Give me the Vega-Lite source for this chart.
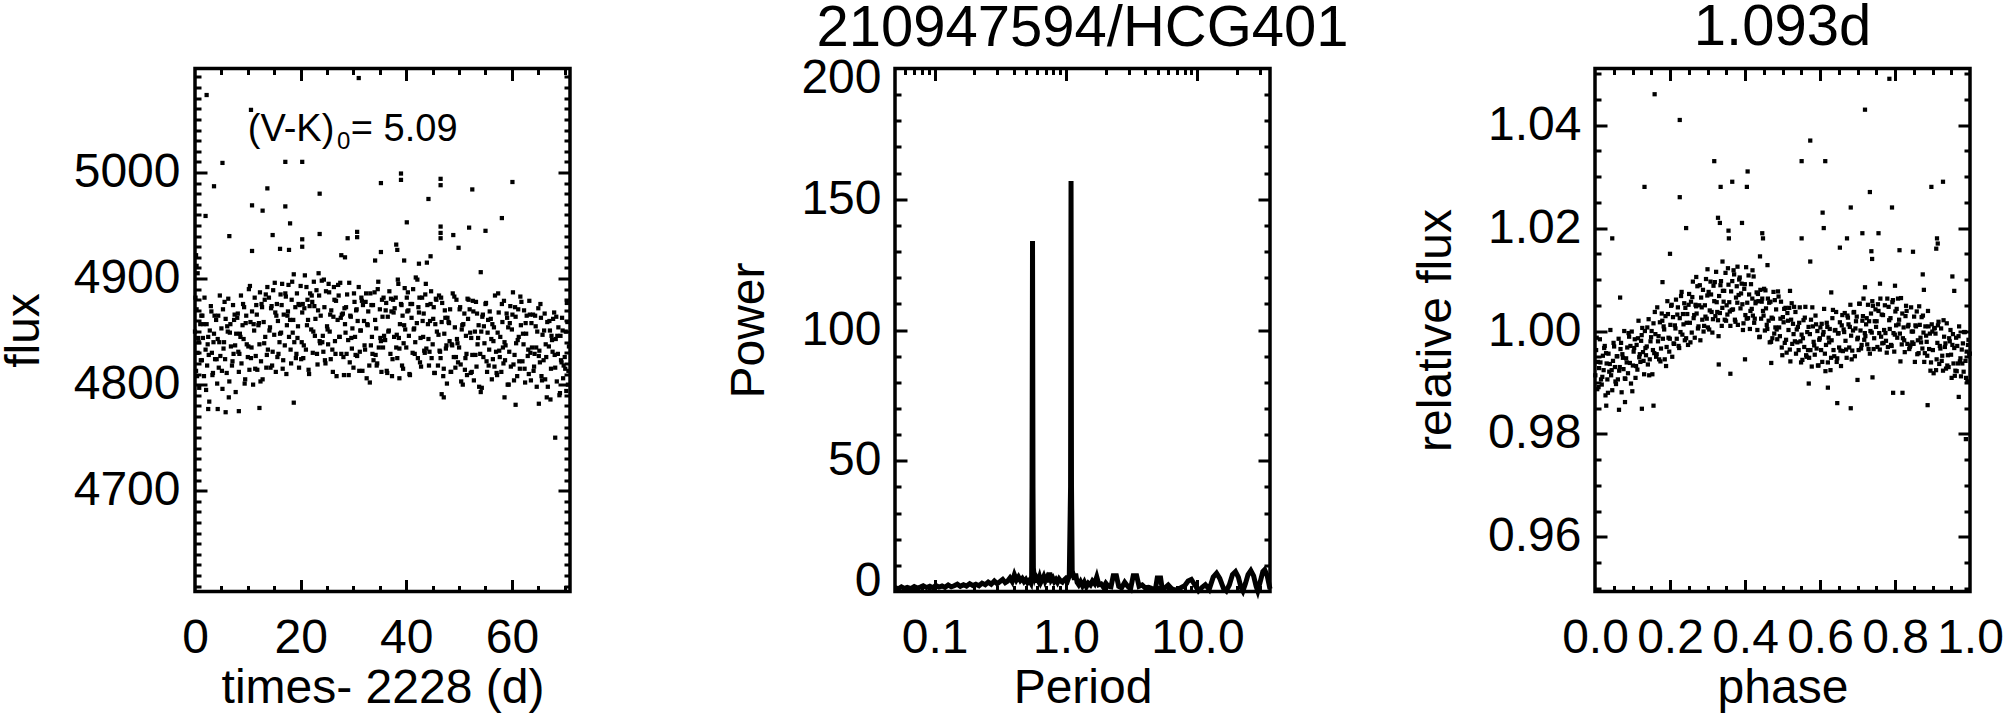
{
"$schema": "https://vega.github.io/schema/vega-lite/v6.json",
"background": "white",
"autosize": {"type": "pad"},
"padding": {"left": -2, "top": -3.5, "right": 0, "bottom": 0},
"spacing": 325,
"bounds": "flush",
"config": {
 "font": "Liberation Sans",
 "view": {"stroke": "#000000", "strokeWidth": 3.5},
 "axis": {"domain": false, "grid": false, "tickColor": "#000000", "tickWidth": 3, "tickCap": "butt", "labelColor": "#000000", "labelFont": "Liberation Sans", "labelFontSize": 48, "labelFlush": false, "labelOverlap": false, "labelBound": false, "titleFont": "Liberation Sans", "titleFontSize": 48, "titleFontWeight": "normal", "titleColor": "#000000"},
 "title": {"font": "Liberation Sans", "fontSize": 58, "fontWeight": "normal", "color": "#000000", "baseline": "alphabetic", "anchor": "middle"}
},
"hconcat": [
{
 "width": 375, "height": 523,
 "data": {"values": "t,f\n0.0,4850\n0.2,4813\n0.3,4871\n0.5,4830\n0.7,4840\n0.8,4797\n1.0,4857\n1.2,4865\n1.3,4823\n1.5,4844\n1.7,4808\n1.8,4882\n2.0,4833\n2.2,4857\n2.3,4818\n2.5,4845\n2.7,4784\n2.8,4851\n3.0,4874\n3.2,4830\n3.3,4809\n3.5,4840\n3.7,4865\n3.8,4824\n4.0,4861\n4.2,4801\n4.3,4843\n4.5,4816\n4.7,4884\n4.8,4827\n5.0,4853\n5.2,4796\n5.3,4871\n5.5,4840\n5.7,4824\n5.8,4862\n6.0,4811\n6.2,4850\n6.3,4881\n6.5,4803\n6.7,4857\n6.8,4836\n7.0,4818\n7.2,4875\n7.3,4829\n7.5,4866\n7.7,4793\n7.8,4848\n8.0,4863\n8.2,4831\n8.3,4812\n8.5,4848\n8.7,4884\n8.8,4820\n9.0,4856\n9.2,4843\n9.3,4873\n9.5,4805\n9.7,4865\n9.8,4838\n10.0,4826\n10.2,4890\n10.3,4814\n10.5,4859\n10.7,4835\n10.8,4869\n11.0,4800\n11.2,4851\n11.3,4882\n11.5,4827\n11.7,4866\n11.8,4814\n12.0,4856\n12.2,4838\n12.3,4887\n12.5,4822\n12.7,4873\n12.8,4805\n13.0,4859\n13.2,4880\n13.3,4845\n13.5,4816\n13.7,4892\n13.8,4833\n14.0,4882\n14.2,4854\n14.3,4816\n14.5,4874\n14.7,4831\n14.8,4889\n15.0,4847\n15.2,4868\n15.3,4812\n15.5,4876\n15.7,4860\n15.8,4829\n16.0,4840\n16.2,4885\n16.3,4849\n16.5,4895\n16.7,4823\n16.8,4866\n17.0,4837\n17.2,4883\n17.3,4810\n17.5,4865\n17.7,4894\n17.8,4845\n18.0,4861\n18.2,4820\n18.3,4880\n18.5,4849\n18.7,4904\n18.8,4840\n19.0,4873\n19.2,4829\n19.3,4886\n19.5,4855\n19.7,4816\n19.8,4875\n20.0,4893\n20.2,4840\n20.3,4868\n20.5,4825\n20.7,4872\n20.8,4903\n21.0,4833\n21.2,4856\n21.3,4880\n21.5,4814\n21.7,4874\n21.8,4886\n22.0,4852\n22.2,4878\n22.3,4830\n22.5,4897\n22.7,4846\n22.8,4862\n23.0,4889\n23.2,4819\n23.3,4870\n23.5,4884\n23.7,4839\n23.8,4865\n24.0,4898\n24.2,4846\n24.3,4831\n24.5,4873\n24.7,4820\n24.8,4888\n25.0,4855\n25.2,4838\n25.3,4895\n25.5,4850\n25.7,4824\n25.8,4870\n26.0,4833\n26.2,4864\n26.3,4892\n26.5,4841\n26.7,4879\n26.8,4808\n27.0,4861\n27.2,4884\n27.3,4845\n27.5,4896\n27.7,4829\n27.8,4866\n28.0,4867\n28.2,4809\n28.3,4872\n28.5,4849\n28.7,4829\n28.8,4885\n29.0,4842\n29.2,4896\n29.3,4821\n29.5,4864\n29.7,4834\n29.8,4853\n30.0,4816\n30.2,4878\n30.3,4845\n30.5,4870\n30.7,4827\n30.8,4860\n31.0,4892\n31.2,4831\n31.3,4851\n31.5,4882\n31.7,4813\n31.8,4875\n32.0,4860\n32.2,4833\n32.3,4878\n32.5,4806\n32.7,4856\n32.8,4869\n33.0,4818\n33.2,4886\n33.3,4837\n33.5,4845\n33.7,4875\n33.8,4823\n34.0,4887\n34.2,4828\n34.3,4853\n34.5,4820\n34.7,4897\n34.8,4835\n35.0,4871\n35.2,4841\n35.3,4812\n35.5,4864\n35.7,4882\n35.8,4846\n36.0,4842\n36.2,4877\n36.3,4813\n36.5,4864\n36.7,4851\n36.8,4888\n37.0,4829\n37.2,4869\n37.3,4808\n37.5,4880\n37.7,4845\n37.8,4872\n38.0,4882\n38.2,4847\n38.3,4825\n38.5,4895\n38.7,4834\n38.8,4857\n39.0,4876\n39.2,4818\n39.3,4865\n39.5,4839\n39.7,4891\n39.8,4852\n40.0,4835\n40.2,4869\n40.3,4887\n40.5,4846\n40.7,4809\n40.8,4876\n41.0,4863\n41.2,4830\n41.3,4890\n41.5,4853\n41.7,4840\n41.8,4901\n42.0,4858\n42.2,4825\n42.3,4873\n42.5,4882\n42.7,4844\n42.8,4817\n43.0,4882\n43.2,4845\n43.3,4867\n43.5,4830\n43.7,4895\n43.8,4834\n44.0,4875\n44.2,4843\n44.3,4818\n44.5,4860\n44.7,4888\n44.8,4825\n45.0,4838\n45.2,4873\n45.3,4811\n45.5,4857\n45.7,4880\n45.8,4850\n46.0,4818\n46.2,4884\n46.3,4832\n46.5,4825\n46.7,4859\n46.8,4877\n47.0,4808\n47.2,4848\n47.3,4870\n47.5,4834\n47.7,4801\n47.8,4863\n48.0,4859\n48.2,4841\n48.3,4871\n48.5,4812\n48.7,4837\n48.8,4886\n49.0,4826\n49.2,4854\n49.3,4816\n49.5,4880\n49.7,4839\n49.8,4821\n50.0,4835\n50.2,4873\n50.3,4819\n50.5,4852\n50.7,4800\n50.8,4857\n51.0,4867\n51.2,4825\n51.3,4846\n51.5,4809\n51.7,4862\n51.8,4880\n52.0,4871\n52.2,4811\n52.3,4844\n52.5,4828\n52.7,4869\n52.8,4804\n53.0,4850\n53.2,4878\n53.3,4817\n53.5,4838\n53.7,4856\n53.8,4798\n54.0,4829\n54.2,4850\n54.3,4797\n54.5,4866\n54.7,4855\n54.8,4839\n55.0,4876\n55.2,4822\n55.3,4812\n55.5,4861\n55.7,4833\n55.8,4869\n56.0,4862\n56.2,4805\n56.3,4857\n56.5,4841\n56.7,4817\n56.8,4884\n57.0,4831\n57.2,4809\n57.3,4849\n57.5,4868\n57.7,4826\n57.8,4845\n58.0,4812\n58.2,4859\n58.3,4835\n58.5,4879\n58.7,4823\n58.8,4837\n59.0,4867\n59.2,4800\n59.3,4854\n59.5,4831\n59.7,4874\n59.8,4817\n60.0,4852\n60.2,4887\n60.3,4819\n60.5,4828\n60.7,4864\n60.8,4839\n61.0,4808\n61.2,4871\n61.3,4845\n61.5,4815\n61.7,4856\n61.8,4878\n62.0,4822\n62.2,4838\n62.3,4870\n62.5,4802\n62.7,4848\n62.8,4865\n63.0,4827\n63.2,4810\n63.3,4879\n63.5,4830\n63.7,4858\n63.8,4835\n64.0,4866\n64.2,4817\n64.3,4829\n64.5,4855\n64.7,4798\n64.8,4850\n65.0,4872\n65.2,4832\n65.3,4821\n65.5,4863\n65.7,4804\n65.8,4847\n66.0,4823\n66.2,4867\n66.3,4805\n66.5,4826\n66.7,4859\n66.8,4798\n67.0,4836\n67.2,4851\n67.3,4786\n67.5,4846\n67.7,4831\n67.8,4862\n68.0,4868\n68.2,4816\n68.3,4843\n68.5,4803\n68.7,4829\n68.8,4854\n69.0,4790\n69.2,4846\n69.3,4823\n69.5,4863\n69.7,4806\n69.8,4818\n70.0,4826\n70.2,4850\n70.3,4794\n70.5,4859\n70.7,4813\n70.8,4836\n0.1,4882\n0.4,4808\n0.6,4844\n1.1,4823\n1.4,4865\n1.6,4857\n2.1,4795\n2.4,4838\n2.6,4828\n3.1,4869\n3.4,4811\n3.6,4848\n4.1,4824\n4.4,4865\n4.6,4840\n5.1,4813\n5.4,4834\n5.6,4878\n6.1,4855\n6.4,4788\n6.6,4849\n7.1,4822\n7.4,4861\n7.6,4837\n8.1,4867\n8.4,4829\n8.6,4845\n9.1,4876\n9.4,4801\n9.6,4858\n10.1,4836\n10.4,4893\n10.6,4825\n11.1,4857\n11.4,4815\n11.6,4875\n12.1,4858\n12.4,4803\n12.6,4876\n13.1,4839\n13.4,4885\n13.6,4828\n14.1,4851\n14.4,4872\n14.6,4818\n15.1,4896\n15.4,4865\n15.6,4826\n16.1,4848\n16.4,4875\n16.6,4815\n17.1,4886\n17.4,4856\n17.6,4869\n18.1,4833\n18.4,4897\n18.6,4861\n19.1,4825\n19.4,4844\n19.6,4876\n20.1,4824\n20.4,4876\n20.6,4837\n21.1,4892\n21.4,4861\n21.6,4810\n22.1,4884\n22.4,4850\n22.6,4874\n23.1,4829\n23.4,4905\n23.6,4841\n24.1,4840\n24.4,4899\n24.6,4823\n25.1,4852\n25.4,4887\n25.6,4866\n26.1,4812\n26.4,4880\n26.6,4829\n27.1,4894\n27.4,4845\n27.6,4863\n28.1,4826\n28.4,4857\n28.6,4873\n29.1,4809\n29.4,4865\n29.6,4844\n30.1,4886\n30.4,4828\n30.6,4871\n31.1,4813\n31.4,4851\n31.6,4879\n32.1,4837\n32.4,4886\n32.6,4857\n33.1,4802\n33.4,4875\n33.6,4829\n34.1,4861\n34.4,4818\n34.6,4890\n35.1,4844\n35.4,4880\n35.6,4835\n36.1,4870\n36.4,4811\n36.6,4850\n37.1,4881\n37.4,4824\n37.6,4868\n38.1,4835\n38.4,4899\n38.6,4844\n39.1,4875\n39.4,4815\n39.6,4856\n40.1,4882\n40.4,4870\n40.6,4810\n41.1,4876\n41.4,4852\n41.6,4829\n42.1,4899\n42.4,4868\n42.6,4821\n43.1,4860\n43.4,4832\n43.6,4885\n44.1,4857\n44.4,4831\n44.6,4876\n45.1,4862\n45.4,4811\n45.6,4881\n46.1,4847\n46.4,4831\n46.6,4882\n47.1,4815\n47.4,4863\n47.6,4837\n48.1,4858\n48.4,4812\n48.6,4838\n49.1,4883\n49.4,4826\n49.6,4843\n50.1,4871\n50.4,4803\n50.6,4856\n51.1,4814\n51.4,4829\n51.6,4881\n52.1,4849\n52.4,4812\n52.6,4879\n53.1,4828\n53.4,4867\n53.6,4844\n54.1,4793\n54.4,4864\n54.6,4826\n55.1,4877\n55.4,4849\n55.6,4818\n56.1,4843\n56.4,4824\n56.6,4854\n57.1,4811\n57.4,4886\n57.6,4832\n58.1,4876\n58.4,4820\n58.6,4840\n59.1,4863\n59.4,4800\n59.6,4858\n60.1,4866\n60.4,4804\n60.6,4873\n61.1,4842\n61.4,4822\n61.6,4883\n62.1,4848\n62.4,4815\n62.6,4858\n63.1,4833\n63.4,4866\n63.6,4804\n64.1,4813\n64.4,4865\n64.6,4835\n65.1,4827\n65.4,4876\n65.6,4808\n66.1,4851\n66.4,4838\n66.6,4788\n67.1,4860\n67.4,4815\n67.6,4842\n68.1,4828\n68.4,4864\n68.6,4846\n69.1,4792\n69.4,4821\n69.6,4851\n70.1,4815\n70.4,4877\n70.6,4800\n0.2,4922\n0.3,4912\n0.5,4905\n2.2,5073\n10.6,5059\n31.0,5089\n5.2,5009\n17.1,5010\n20.3,5010\n3.6,4987\n13.7,4985\n23.6,4980\n35.2,4990\n39.0,4999\n39.0,4993\n46.5,4994\n46.5,4988\n52.5,4984\n60.1,4991\n44.2,4975\n2.0,4959\n10.8,4969\n12.8,4964\n17.1,4968\n18.0,4952\n40.1,4953\n58.1,4957\n6.5,4940\n14.7,4941\n20.3,4937\n23.6,4942\n28.9,4938\n30.7,4944\n30.7,4939\n46.5,4949\n46.5,4943\n46.5,4938\n48.9,4941\n51.9,4948\n55.0,4945\n49.9,4929\n38.1,4932\n38.3,4927\n39.6,4917\n43.9,4915\n44.6,4921\n35.2,4925\n54.1,4906\n10.8,4926\n16.1,4928\n17.8,4927\n20.3,4930\n27.7,4922\n28.4,4920\n34.1,4917\n42.4,4914\n12.2,4778\n18.7,4783\n38.7,4806\n60.7,4781\n68.2,4750\n2.5,4777\n4.3,4777\n5.8,4774\n8.3,4775\n46.7,4791\n47.1,4788\n58.6,4788\n65.1,4782", "format": {"type": "csv", "parse": {"t": "number", "f": "number"}}},
 "resolve": {"axis": {"x": "independent", "y": "independent"}},
 "layer": [
  {"mark": {"type": "square", "size": 18, "color": "#000000", "opacity": 1},
   "encoding": {
    "x": {"field": "t", "type": "quantitative", "scale": {"domain": [0, 71], "nice": false, "zero": false}, "axis": {"orient": "bottom", "values": [0, 20, 40, 60], "format": "d", "ticks": false, "labelPadding": 23, "title": "times- 2228 (d)", "titlePadding": 1.5}},
    "y": {"field": "f", "type": "quantitative", "scale": {"domain": [4605, 5098], "nice": false, "zero": false}, "axis": {"orient": "left", "values": [4700, 4800, 4900, 5000], "format": "d", "ticks": false, "labelPadding": 15, "title": "flux", "titlePadding": 25}}}},
  {"transform": [{"filter": "datum.t < 0.05"}], "mark": {"type": "point", "opacity": 0},
   "encoding": {
    "x": {"field": "t", "type": "quantitative", "scale": {"domain": [0, 71], "nice": false, "zero": false}, "axis": {"orient": "bottom", "values": [20, 40, 60], "labels": false, "tickSize": -12, "title": null}},
    "y": {"field": "f", "type": "quantitative", "scale": {"domain": [4605, 5098], "nice": false, "zero": false}, "axis": {"orient": "left", "values": [4700, 4800, 4900, 5000], "labels": false, "tickSize": -12, "title": null}}}},
  {"transform": [{"filter": "datum.t < 0.05"}], "mark": {"type": "point", "opacity": 0},
   "encoding": {
    "x": {"field": "t", "type": "quantitative", "scale": {"domain": [0, 71], "nice": false, "zero": false}, "axis": {"orient": "bottom", "values": [5, 10, 15, 25, 30, 35, 45, 50, 55, 65, 70], "labels": false, "tickSize": -6, "title": null}},
    "y": {"field": "f", "type": "quantitative", "scale": {"domain": [4605, 5098], "nice": false, "zero": false}, "axis": {"orient": "left", "values": [4610,4620,4630,4640,4650,4660,4670,4680,4690,4710,4720,4730,4740,4750,4760,4770,4780,4790,4810,4820,4830,4840,4850,4860,4870,4880,4890,4910,4920,4930,4940,4950,4960,4970,4980,4990,5010,5020,5030,5040,5050,5060,5070,5080,5090], "labels": false, "tickSize": -6, "title": null}}}},
  {"transform": [{"filter": "datum.t < 0.05"}], "mark": {"type": "point", "opacity": 0},
   "encoding": {
    "x": {"field": "t", "type": "quantitative", "scale": {"domain": [0, 71], "nice": false, "zero": false}, "axis": {"orient": "top", "values": [20, 40, 60], "labels": false, "tickSize": -12, "title": null}},
    "y": {"field": "f", "type": "quantitative", "scale": {"domain": [4605, 5098], "nice": false, "zero": false}, "axis": {"orient": "right", "values": [4700, 4800, 4900, 5000], "labels": false, "tickSize": -12, "title": null}}}},
  {"transform": [{"filter": "datum.t < 0.05"}], "mark": {"type": "point", "opacity": 0},
   "encoding": {
    "x": {"field": "t", "type": "quantitative", "scale": {"domain": [0, 71], "nice": false, "zero": false}, "axis": {"orient": "top", "values": [5, 10, 15, 25, 30, 35, 45, 50, 55, 65, 70], "labels": false, "tickSize": -6, "title": null}},
    "y": {"field": "f", "type": "quantitative", "scale": {"domain": [4605, 5098], "nice": false, "zero": false}, "axis": {"orient": "right", "values": [4610,4620,4630,4640,4650,4660,4670,4680,4690,4710,4720,4730,4740,4750,4760,4770,4780,4790,4810,4820,4830,4840,4850,4860,4870,4880,4890,4910,4920,4930,4940,4950,4960,4970,4980,4990,5010,5020,5030,5040,5050,5060,5070,5080,5090], "labels": false, "tickSize": -6, "title": null}}}},
  {"data": {"values": [{"t": 10.0, "f": 5030, "s": "(V-K)"}, {"t": 29.5, "f": 5030, "s": "= 5.09"}]},
   "mark": {"type": "text", "align": "left", "baseline": "alphabetic", "fontSize": 38, "color": "#000000", "font": "Liberation Sans"},
   "encoding": {
    "x": {"field": "t", "type": "quantitative", "scale": {"domain": [0, 71], "nice": false, "zero": false}, "axis": null},
    "y": {"field": "f", "type": "quantitative", "scale": {"domain": [4605, 5098], "nice": false, "zero": false}, "axis": null},
    "text": {"field": "s"}}},
  {"data": {"values": [{"t": 26.9, "f": 5022, "s": "0"}]},
   "mark": {"type": "text", "align": "left", "baseline": "alphabetic", "fontSize": 24, "color": "#000000", "font": "Liberation Sans"},
   "encoding": {
    "x": {"field": "t", "type": "quantitative", "scale": {"domain": [0, 71], "nice": false, "zero": false}, "axis": null},
    "y": {"field": "f", "type": "quantitative", "scale": {"domain": [4605, 5098], "nice": false, "zero": false}, "axis": null},
    "text": {"field": "s"}}}
 ]
},
{
 "width": 375, "height": 523,
 "title": {"text": "210947594/HCG401", "offset": -3},
 "data": {"values": "P,w\n0.050,1.5\n0.053,1.0\n0.056,1.8\n0.059,1.2\n0.062,1.6\n0.066,1.1\n0.070,1.9\n0.074,1.3\n0.078,1.7\n0.082,2.2\n0.087,1.5\n0.092,2.0\n0.097,1.4\n0.102,2.3\n0.108,1.7\n0.114,2.1\n0.120,1.6\n0.127,2.5\n0.134,1.8\n0.141,2.2\n0.149,2.8\n0.157,2.0\n0.166,2.6\n0.175,2.1\n0.185,3.0\n0.195,2.3\n0.206,2.8\n0.218,2.2\n0.230,3.2\n0.243,2.6\n0.256,3.6\n0.270,2.8\n0.285,4.0\n0.300,3.0\n0.315,3.8\n0.330,4.6\n0.345,3.4\n0.360,4.0\n0.375,5.2\n0.390,3.8\n0.405,6.4\n0.420,4.4\n0.435,5.6\n0.450,4.2\n0.465,5.0\n0.480,3.8\n0.495,4.6\n0.510,3.4\n0.525,4.2\n0.540,3.2\n0.548,6.0\n0.552,40\n0.5565,134\n0.561,40\n0.565,9\n0.570,7\n0.578,5.5\n0.586,6.4\n0.595,3.5\n0.605,4.8\n0.617,4.0\n0.630,5.5\n0.645,3.6\n0.660,4.6\n0.677,5.8\n0.695,4.0\n0.714,5.2\n0.733,3.6\n0.752,7.2\n0.772,4.4\n0.793,5.2\n0.815,3.8\n0.838,4.6\n0.862,3.5\n0.887,4.8\n0.913,4.0\n0.940,3.6\n0.968,4.4\n0.998,5.0\n1.030,4.2\n1.060,6.0\n1.084,40\n1.093,157\n1.102,40\n1.115,8\n1.135,6.5\n1.160,4.5\n1.185,6.8\n1.215,3.5\n1.250,2.6\n1.290,3.8\n1.335,2.2\n1.380,3.6\n1.430,1.8\n1.480,3.2\n1.535,2.5\n1.590,4.0\n1.650,3.0\n1.715,5.6\n1.780,2.6\n1.850,2.9\n1.930,1.6\n2.010,3.2\n2.100,2.0\n2.200,1.8\n2.290,6.0\n2.420,6.0\n2.520,2.0\n2.650,1.4\n2.800,3.5\n2.950,2.0\n3.100,1.0\n3.250,6.0\n3.450,6.0\n3.600,2.0\n3.800,2.5\n4.000,1.4\n4.250,1.6\n4.500,1.2\n4.800,1.0\n4.950,5.2\n5.250,5.2\n5.400,1.0\n5.700,1.5\n6.000,2.5\n6.400,1.0\n6.800,0.5\n7.200,1.0\n7.600,1.6\n8.000,2.2\n8.500,4.0\n9.000,4.6\n9.600,2.4\n10.20,0.3\n10.80,1.5\n11.50,2.6\n12.30,0.8\n13.20,5.5\n14.00,7.0\n14.80,5.0\n15.80,1.2\n16.60,0.2\n17.50,2.5\n18.50,6.5\n19.50,7.6\n20.50,5.5\n21.50,1.5\n22.20,0.2\n23.20,3.0\n24.30,6.5\n25.50,8.0\n26.80,6.0\n28.00,2.0\n28.80,0.2\n30.00,3.5\n31.50,7.6\n32.50,8.3\n34.00,6.0\n35.70,1.0", "format": {"type": "csv", "parse": {"P": "number", "w": "number"}}},
 "resolve": {"axis": {"x": "independent", "y": "independent"}},
 "layer": [
  {"mark": {"type": "line", "color": "#000000", "strokeWidth": 5},
   "encoding": {
    "x": {"field": "P", "type": "quantitative", "scale": {"type": "log", "domain": [0.05, 35.7], "nice": false}, "axis": {"orient": "bottom", "values": [0.1, 1, 10], "format": ".1f", "ticks": false, "labelPadding": 23, "title": "Period", "titlePadding": 1.5}},
    "y": {"field": "w", "type": "quantitative", "scale": {"domain": [0, 200], "nice": false, "zero": false}, "axis": {"orient": "left", "values": [0, 50, 100, 150, 200], "format": "d", "ticks": false, "labelPadding": 14, "labelFlush": true, "labelFlushOffset": 14, "title": "Power", "titlePadding": 27}}}},
  {"transform": [{"filter": "datum.P < 0.051"}], "mark": {"type": "point", "opacity": 0},
   "encoding": {
    "x": {"field": "P", "type": "quantitative", "scale": {"type": "log", "domain": [0.05, 35.7], "nice": false}, "axis": {"orient": "bottom", "values": [0.1, 1, 10], "labels": false, "tickSize": -12, "title": null}},
    "y": {"field": "w", "type": "quantitative", "scale": {"domain": [0, 200], "nice": false, "zero": false}, "axis": {"orient": "left", "values": [50, 100, 150], "labels": false, "tickSize": -12, "title": null}}}},
  {"transform": [{"filter": "datum.P < 0.051"}], "mark": {"type": "point", "opacity": 0},
   "encoding": {
    "x": {"field": "P", "type": "quantitative", "scale": {"type": "log", "domain": [0.05, 35.7], "nice": false}, "axis": {"orient": "bottom", "values": [0.06, 0.07, 0.08, 0.09, 0.2, 0.3, 0.4, 0.5, 0.6, 0.7, 0.8, 0.9, 2, 3, 4, 5, 6, 7, 8, 9, 20, 30], "labels": false, "tickSize": -6, "title": null}},
    "y": {"field": "w", "type": "quantitative", "scale": {"domain": [0, 200], "nice": false, "zero": false}, "axis": {"orient": "left", "values": [10, 20, 30, 40, 60, 70, 80, 90, 110, 120, 130, 140, 160, 170, 180, 190], "labels": false, "tickSize": -6, "title": null}}}},
  {"transform": [{"filter": "datum.P < 0.051"}], "mark": {"type": "point", "opacity": 0},
   "encoding": {
    "x": {"field": "P", "type": "quantitative", "scale": {"type": "log", "domain": [0.05, 35.7], "nice": false}, "axis": {"orient": "top", "values": [0.1, 1, 10], "labels": false, "tickSize": -12, "title": null}},
    "y": {"field": "w", "type": "quantitative", "scale": {"domain": [0, 200], "nice": false, "zero": false}, "axis": {"orient": "right", "values": [50, 100, 150], "labels": false, "tickSize": -12, "title": null}}}},
  {"transform": [{"filter": "datum.P < 0.051"}], "mark": {"type": "point", "opacity": 0},
   "encoding": {
    "x": {"field": "P", "type": "quantitative", "scale": {"type": "log", "domain": [0.05, 35.7], "nice": false}, "axis": {"orient": "top", "values": [0.06, 0.07, 0.08, 0.09, 0.2, 0.3, 0.4, 0.5, 0.6, 0.7, 0.8, 0.9, 2, 3, 4, 5, 6, 7, 8, 9, 20, 30], "labels": false, "tickSize": -6, "title": null}},
    "y": {"field": "w", "type": "quantitative", "scale": {"domain": [0, 200], "nice": false, "zero": false}, "axis": {"orient": "right", "values": [10, 20, 30, 40, 60, 70, 80, 90, 110, 120, 130, 140, 160, 170, 180, 190], "labels": false, "tickSize": -6, "title": null}}}}
 ]
},
{
 "width": 375, "height": 523,
 "title": {"text": "1.093d", "offset": 10},
 "data": {"values": "p,r\n0.001,0.9914\n0.003,0.9963\n0.006,0.9887\n0.008,0.9940\n0.011,0.9928\n0.013,0.9984\n0.016,0.9906\n0.018,0.9896\n0.021,0.9952\n0.023,0.9924\n0.026,0.9971\n0.028,0.9875\n0.031,0.9937\n0.033,0.9906\n0.036,0.9956\n0.038,0.9921\n0.041,1.0002\n0.043,0.9914\n0.046,0.9885\n0.048,0.9942\n0.051,0.9970\n0.053,0.9930\n0.056,0.9897\n0.058,0.9951\n0.061,0.9906\n0.063,0.9985\n0.066,0.9930\n0.068,0.9965\n0.071,0.9881\n0.073,0.9955\n0.076,0.9926\n0.078,1.0000\n0.081,0.9907\n0.083,0.9947\n0.086,0.9968\n0.088,0.9918\n0.091,0.9989\n0.093,0.9938\n0.096,0.9898\n0.098,0.9999\n0.101,0.9933\n0.103,0.9960\n0.106,0.9984\n0.108,0.9909\n0.111,0.9973\n0.113,0.9925\n0.116,1.0020\n0.118,0.9949\n0.121,0.9940\n0.123,0.9981\n0.126,1.0006\n0.128,0.9959\n0.131,0.9916\n0.133,1.0000\n0.136,0.9953\n0.138,0.9970\n0.141,0.9935\n0.143,1.0023\n0.146,0.9945\n0.148,0.9980\n0.151,1.0000\n0.153,0.9916\n0.156,1.0015\n0.158,0.9957\n0.161,0.9994\n0.163,0.9950\n0.166,1.0046\n0.168,0.9980\n0.171,0.9945\n0.173,1.0017\n0.176,0.9966\n0.178,1.0034\n0.181,0.9985\n0.183,1.0009\n0.186,0.9945\n0.188,1.0029\n0.191,0.9969\n0.193,1.0058\n0.196,0.9987\n0.198,0.9960\n0.201,1.0012\n0.203,1.0049\n0.206,0.9950\n0.208,1.0027\n0.211,0.9975\n0.213,1.0011\n0.216,1.0061\n0.218,0.9985\n0.221,1.0046\n0.223,0.9971\n0.226,1.0025\n0.228,0.9998\n0.231,1.0076\n0.233,0.9993\n0.236,1.0013\n0.238,1.0054\n0.241,1.0045\n0.243,0.9986\n0.246,1.0033\n0.248,0.9973\n0.251,1.0072\n0.253,1.0016\n0.256,1.0057\n0.258,0.9997\n0.261,1.0096\n0.263,1.0025\n0.266,0.9987\n0.268,1.0051\n0.271,1.0034\n0.273,1.0087\n0.276,1.0009\n0.278,1.0050\n0.281,0.9982\n0.283,1.0065\n0.286,1.0022\n0.288,1.0080\n0.291,1.0010\n0.293,1.0050\n0.296,1.0101\n0.298,1.0024\n0.301,1.0007\n0.303,1.0076\n0.306,1.0040\n0.308,1.0096\n0.311,1.0037\n0.313,0.9997\n0.316,1.0088\n0.318,1.0058\n0.321,1.0029\n0.323,1.0115\n0.326,1.0037\n0.328,1.0021\n0.331,1.0068\n0.333,1.0035\n0.336,1.0097\n0.338,1.0010\n0.341,1.0078\n0.343,1.0057\n0.346,1.0022\n0.348,1.0113\n0.351,1.0050\n0.353,1.0032\n0.356,1.0090\n0.358,1.0056\n0.361,1.0010\n0.363,1.0077\n0.366,1.0097\n0.368,1.0042\n0.371,1.0110\n0.373,1.0022\n0.376,1.0065\n0.378,1.0087\n0.381,1.0012\n0.383,1.0070\n0.386,1.0104\n0.388,1.0044\n0.391,1.0092\n0.393,1.0052\n0.396,1.0015\n0.398,1.0082\n0.401,1.0031\n0.403,1.0124\n0.406,1.0055\n0.408,1.0025\n0.411,1.0071\n0.413,1.0004\n0.416,1.0091\n0.418,1.0043\n0.421,1.0030\n0.423,1.0106\n0.426,1.0024\n0.428,1.0054\n0.431,1.0075\n0.433,1.0002\n0.436,1.0058\n0.438,0.9988\n0.441,1.0080\n0.443,1.0024\n0.446,1.0063\n0.448,1.0039\n0.451,1.0082\n0.453,1.0001\n0.456,1.0044\n0.458,1.0012\n0.461,1.0063\n0.463,1.0020\n0.466,0.9978\n0.468,1.0057\n0.471,1.0026\n0.473,0.9986\n0.476,1.0076\n0.478,0.9995\n0.481,1.0007\n0.483,1.0042\n0.486,0.9984\n0.488,1.0077\n0.491,1.0007\n0.493,0.9990\n0.496,1.0057\n0.498,0.9968\n0.501,1.0027\n0.503,1.0017\n0.506,0.9977\n0.508,1.0045\n0.511,0.9958\n0.513,1.0035\n0.516,1.0002\n0.518,1.0045\n0.521,0.9941\n0.523,1.0022\n0.526,0.9975\n0.528,1.0014\n0.531,1.0047\n0.533,0.9980\n0.536,0.9956\n0.538,1.0003\n0.541,1.0008\n0.543,0.9963\n0.546,1.0046\n0.548,0.9980\n0.551,0.9993\n0.553,0.9944\n0.556,1.0021\n0.558,0.9969\n0.561,1.0047\n0.563,0.9953\n0.566,0.9998\n0.568,0.9963\n0.571,0.9948\n0.573,0.9994\n0.576,1.0022\n0.578,0.9931\n0.581,1.0009\n0.583,0.9979\n0.586,0.9954\n0.588,1.0030\n0.591,0.9966\n0.593,1.0000\n0.596,0.9933\n0.598,0.9983\n0.601,1.0007\n0.603,0.9963\n0.606,0.9940\n0.608,0.9993\n0.611,1.0043\n0.613,0.9956\n0.616,0.9973\n0.618,1.0016\n0.621,0.9939\n0.623,0.9987\n0.626,1.0004\n0.628,0.9924\n0.631,0.9982\n0.633,1.0025\n0.636,0.9963\n0.638,0.9951\n0.641,1.0002\n0.643,1.0037\n0.646,0.9947\n0.648,0.9995\n0.651,0.9968\n0.653,1.0017\n0.656,0.9932\n0.658,1.0011\n0.661,0.9961\n0.663,1.0003\n0.666,1.0035\n0.668,0.9981\n0.671,0.9948\n0.673,1.0030\n0.676,1.0013\n0.678,0.9968\n0.681,1.0051\n0.683,0.9991\n0.686,0.9962\n0.688,1.0001\n0.691,1.0037\n0.693,0.9951\n0.696,1.0019\n0.698,1.0028\n0.701,0.9987\n0.703,0.9963\n0.706,1.0053\n0.708,1.0001\n0.711,0.9973\n0.713,1.0020\n0.716,1.0063\n0.718,0.9983\n0.721,0.9990\n0.723,1.0013\n0.726,0.9974\n0.728,1.0051\n0.731,1.0019\n0.733,0.9956\n0.736,1.0034\n0.738,0.9997\n0.741,1.0049\n0.743,0.9965\n0.746,1.0019\n0.748,1.0042\n0.751,1.0019\n0.753,0.9969\n0.756,1.0039\n0.758,0.9996\n0.761,1.0063\n0.763,0.9989\n0.766,0.9976\n0.768,1.0031\n0.771,1.0002\n0.773,1.0050\n0.776,0.9981\n0.778,0.9958\n0.781,0.9969\n0.783,1.0047\n0.786,1.0004\n0.788,1.0025\n0.791,0.9971\n0.793,1.0056\n0.796,0.9996\n0.798,0.9960\n0.801,1.0038\n0.803,1.0011\n0.806,0.9987\n0.808,1.0063\n0.811,1.0022\n0.813,0.9995\n0.816,1.0064\n0.818,0.9974\n0.821,0.9986\n0.823,1.0007\n0.826,0.9959\n0.828,1.0029\n0.831,1.0039\n0.833,0.9975\n0.836,1.0012\n0.838,0.9965\n0.841,0.9972\n0.843,1.0046\n0.846,0.9978\n0.848,0.9999\n0.851,1.0028\n0.853,0.9940\n0.856,1.0009\n0.858,1.0038\n0.861,0.9982\n0.863,0.9957\n0.866,1.0012\n0.868,0.9987\n0.871,1.0027\n0.873,0.9966\n0.876,0.9997\n0.878,0.9940\n0.881,1.0009\n0.883,0.9991\n0.886,0.9952\n0.888,1.0039\n0.891,0.9965\n0.893,0.9995\n0.896,0.9939\n0.898,1.0013\n0.901,0.9963\n0.903,0.9918\n0.906,1.0006\n0.908,0.9995\n0.911,0.9945\n0.913,0.9977\n0.916,1.0018\n0.918,0.9936\n0.921,0.9966\n0.923,1.0005\n0.926,0.9952\n0.928,0.9923\n0.931,0.9989\n0.933,0.9969\n0.936,0.9927\n0.938,1.0015\n0.941,0.9953\n0.943,0.9930\n0.946,0.9980\n0.948,1.0002\n0.951,0.9909\n0.953,0.9973\n0.956,0.9937\n0.958,0.9967\n0.961,0.9923\n0.963,0.9987\n0.966,0.9971\n0.968,0.9937\n0.971,1.0009\n0.973,0.9941\n0.976,0.9912\n0.978,0.9964\n0.981,0.9976\n0.983,0.9921\n0.986,0.9998\n0.988,0.9942\n0.991,0.9960\n0.993,0.9902\n0.996,0.9983\n0.998,0.9956\n0.0045,0.9987\n0.0095,0.9891\n0.0145,0.9939\n0.0195,0.9911\n0.0245,0.9967\n0.0295,0.9957\n0.0345,0.9880\n0.0395,0.9936\n0.0445,0.9924\n0.0495,0.9977\n0.0545,0.9902\n0.0595,0.9951\n0.0645,0.9923\n0.0695,0.9977\n0.0745,0.9948\n0.0795,0.9908\n0.0845,0.9939\n0.0895,0.9996\n0.0945,0.9971\n0.0995,0.9883\n0.1045,0.9967\n0.1095,0.9932\n0.1145,0.9986\n0.1195,0.9955\n0.1245,0.9992\n0.1295,0.9942\n0.1345,0.9967\n0.1395,1.0007\n0.1445,0.9914\n0.1495,0.9988\n0.1545,0.9963\n0.1595,1.0037\n0.1645,0.9955\n0.1695,0.9990\n0.1745,0.9941\n0.1795,1.0020\n0.1845,1.0003\n0.1895,0.9932\n0.1945,1.0033\n0.1995,0.9985\n0.2045,1.0051\n0.2095,0.9976\n0.2145,1.0005\n0.2195,1.0032\n0.2245,0.9967\n0.2295,1.0068\n0.2345,1.0033\n0.2395,0.9982\n0.2445,1.0016\n0.2495,1.0051\n0.2545,0.9978\n0.2595,1.0066\n0.2645,1.0031\n0.2695,1.0048\n0.2745,1.0005\n0.2795,1.0089\n0.2845,1.0046\n0.2895,0.9999\n0.2945,1.0028\n0.2995,1.0069\n0.3045,1.0003\n0.3095,1.0071\n0.3145,1.0023\n0.3195,1.0095\n0.3245,1.0056\n0.3295,0.9990\n0.3345,1.0089\n0.3395,1.0045\n0.3445,1.0078\n0.3495,1.0020\n0.3545,1.0122\n0.3595,1.0038\n0.3645,1.0041\n0.3695,1.0118\n0.3745,1.0018\n0.3795,1.0055\n0.3845,1.0100\n0.3895,1.0073\n0.3945,1.0002\n0.3995,1.0091\n0.4045,1.0024\n0.4095,1.0108\n0.4145,1.0039\n0.4195,1.0063\n0.4245,1.0016\n0.4295,1.0057\n0.4345,1.0072\n0.4395,0.9989\n0.4445,1.0057\n0.4495,1.0030\n0.4545,1.0079\n0.4595,1.0004\n0.4645,1.0055\n0.4695,0.9979\n0.4745,1.0024\n0.4795,1.0060\n0.4845,1.0003\n0.4895,1.0067\n0.4945,1.0024\n0.4995,0.9953\n0.5045,1.0043\n0.5095,0.9983\n0.5145,1.0020\n0.5195,0.9964\n0.5245,1.0054\n0.5295,0.9994\n0.5345,1.0037\n0.5395,0.9978\n0.5445,1.0016\n0.5495,0.9939\n0.5545,0.9986\n0.5595,1.0026\n0.5645,0.9950\n0.5695,1.0008\n0.5745,0.9963\n0.5795,1.0046\n0.5845,0.9972\n0.5895,1.0013\n0.5945,0.9933\n0.5995,0.9986\n0.6045,1.0014\n0.6095,0.9998\n0.6145,0.9922\n0.6195,1.0008\n0.6245,0.9978\n0.6295,0.9948\n0.6345,1.0041\n0.6395,1.0001\n0.6445,0.9940\n0.6495,0.9996\n0.6545,0.9962\n0.6595,1.0031\n0.6645,0.9998\n0.6695,0.9964\n0.6745,1.0026\n0.6795,1.0008\n0.6845,0.9945\n0.6895,1.0036\n0.6945,1.0005\n0.6995,0.9984\n0.7045,1.0053\n0.7095,0.9966\n0.7145,1.0029\n0.7195,0.9996\n0.7245,1.0025\n0.7295,0.9965\n0.7345,1.0000\n0.7395,1.0058\n0.7445,0.9986\n0.7495,1.0008\n0.7545,1.0052\n0.7595,0.9964\n0.7645,1.0032\n0.7695,0.9977\n0.7745,0.9996\n0.7795,1.0063\n0.7845,1.0021\n0.7895,0.9973\n0.7945,1.0060\n0.7995,0.9993\n0.8045,1.0043\n0.8095,1.0013\n0.8145,0.9941\n0.8195,1.0034\n0.8245,0.9982\n0.8295,1.0049\n0.8345,1.0009\n0.8395,0.9969\n0.8445,0.9999\n0.8495,0.9975\n0.8545,1.0011\n0.8595,0.9955\n0.8645,1.0048\n0.8695,0.9978\n0.8745,1.0030\n0.8795,0.9957\n0.8845,0.9979\n0.8895,1.0009\n0.8945,0.9923\n0.8995,0.9999\n0.9045,1.0005\n0.9095,0.9924\n0.9145,1.0011\n0.9195,0.9971\n0.9245,0.9942\n0.9295,1.0021\n0.9345,0.9976\n0.9395,0.9933\n0.9445,0.9986\n0.9495,0.9954\n0.9545,0.9994\n0.9595,0.9913\n0.9645,0.9922\n0.9695,0.9990\n0.9745,0.9947\n0.9795,0.9937\n0.9845,0.9998\n0.9895,0.9909\n0.9945,0.9973\n0.9995,0.9956\n0.159,1.046\n0.226,1.041\n0.720,1.043\n0.785,1.049\n0.574,1.037\n0.318,1.033\n0.551,1.033\n0.614,1.033\n0.407,1.031\n0.405,1.028\n0.366,1.029\n0.335,1.028\n0.132,1.028\n0.897,1.028\n0.928,1.029\n0.226,1.026\n0.733,1.027\n0.682,1.024\n0.792,1.024\n0.328,1.022\n0.333,1.021\n0.607,1.023\n0.392,1.021\n0.243,1.020\n0.610,1.020\n0.046,1.018\n0.551,1.018\n0.713,1.019\n0.756,1.019\n0.912,1.018\n0.914,1.017\n0.672,1.018\n0.446,1.019\n0.448,1.018\n0.356,1.0195\n0.357,1.018\n0.067,1.0065\n0.910,1.016\n0.812,1.0157\n0.848,1.0154\n0.653,1.0162\n0.737,1.0155\n0.739,1.014\n0.874,1.011\n0.953,1.0106\n0.958,1.0078\n0.877,1.008\n0.574,1.0135\n0.200,1.015\n0.361,0.9917\n0.682,0.985\n0.646,0.986\n0.064,0.9847\n0.125,0.9849\n0.156,0.9855\n0.887,0.9856\n0.989,0.979\n0.795,0.988\n0.621,0.989\n0.820,0.988\n0.30,1.012\n0.34,1.0135\n0.38,1.0125\n0.42,1.0118\n0.44,1.0145\n0.46,1.0128\n0.27,1.0105\n0.18,1.0095\n0.72,1.0085\n0.76,1.0092\n0.80,1.0088\n0.52,1.0078\n0.63,1.0075\n0.33,0.9935\n0.40,0.9945\n0.47,0.9938\n0.70,0.9905\n0.74,0.991\n0.57,0.9898\n0.03,0.9855\n0.08,0.9862\n0.97,0.9872", "format": {"type": "csv", "parse": {"p": "number", "r": "number"}}},
 "resolve": {"axis": {"x": "independent", "y": "independent"}},
 "layer": [
  {"mark": {"type": "square", "size": 18, "color": "#000000", "opacity": 1},
   "encoding": {
    "x": {"field": "p", "type": "quantitative", "scale": {"domain": [0, 1], "nice": false, "zero": false}, "axis": {"orient": "bottom", "values": [0, 0.2, 0.4, 0.6, 0.8, 1], "format": ".1f", "ticks": false, "labelPadding": 23, "title": "phase", "titlePadding": 1.5}},
    "y": {"field": "r", "type": "quantitative", "scale": {"domain": [0.9494, 1.051], "nice": false, "zero": false}, "axis": {"orient": "left", "values": [0.96, 0.98, 1.0, 1.02, 1.04], "format": ".2f", "ticks": false, "labelPadding": 14, "title": "relative flux", "titlePadding": 27}}}},
  {"transform": [{"filter": "datum.p < 0.002"}], "mark": {"type": "point", "opacity": 0},
   "encoding": {
    "x": {"field": "p", "type": "quantitative", "scale": {"domain": [0, 1], "nice": false, "zero": false}, "axis": {"orient": "bottom", "values": [0.2, 0.4, 0.6, 0.8], "labels": false, "tickSize": -12, "title": null}},
    "y": {"field": "r", "type": "quantitative", "scale": {"domain": [0.9494, 1.051], "nice": false, "zero": false}, "axis": {"orient": "left", "values": [0.96, 0.98, 1.0, 1.02, 1.04], "labels": false, "tickSize": -12, "title": null}}}},
  {"transform": [{"filter": "datum.p < 0.002"}], "mark": {"type": "point", "opacity": 0},
   "encoding": {
    "x": {"field": "p", "type": "quantitative", "scale": {"domain": [0, 1], "nice": false, "zero": false}, "axis": {"orient": "bottom", "values": [0.05, 0.1, 0.15, 0.25, 0.3, 0.35, 0.45, 0.5, 0.55, 0.65, 0.7, 0.75, 0.85, 0.9, 0.95], "labels": false, "tickSize": -6, "title": null}},
    "y": {"field": "r", "type": "quantitative", "scale": {"domain": [0.9494, 1.051], "nice": false, "zero": false}, "axis": {"orient": "left", "values": [0.95, 0.955, 0.965, 0.97, 0.975, 0.985, 0.99, 0.995, 1.005, 1.01, 1.015, 1.025, 1.03, 1.035, 1.045, 1.05], "labels": false, "tickSize": -6, "title": null}}}},
  {"transform": [{"filter": "datum.p < 0.002"}], "mark": {"type": "point", "opacity": 0},
   "encoding": {
    "x": {"field": "p", "type": "quantitative", "scale": {"domain": [0, 1], "nice": false, "zero": false}, "axis": {"orient": "top", "values": [0.2, 0.4, 0.6, 0.8], "labels": false, "tickSize": -12, "title": null}},
    "y": {"field": "r", "type": "quantitative", "scale": {"domain": [0.9494, 1.051], "nice": false, "zero": false}, "axis": {"orient": "right", "values": [0.96, 0.98, 1.0, 1.02, 1.04], "labels": false, "tickSize": -12, "title": null}}}},
  {"transform": [{"filter": "datum.p < 0.002"}], "mark": {"type": "point", "opacity": 0},
   "encoding": {
    "x": {"field": "p", "type": "quantitative", "scale": {"domain": [0, 1], "nice": false, "zero": false}, "axis": {"orient": "top", "values": [0.05, 0.1, 0.15, 0.25, 0.3, 0.35, 0.45, 0.5, 0.55, 0.65, 0.7, 0.75, 0.85, 0.9, 0.95], "labels": false, "tickSize": -6, "title": null}},
    "y": {"field": "r", "type": "quantitative", "scale": {"domain": [0.9494, 1.051], "nice": false, "zero": false}, "axis": {"orient": "right", "values": [0.95, 0.955, 0.965, 0.97, 0.975, 0.985, 0.99, 0.995, 1.005, 1.01, 1.015, 1.025, 1.03, 1.035, 1.045, 1.05], "labels": false, "tickSize": -6, "title": null}}}}
 ]
}
]
}
